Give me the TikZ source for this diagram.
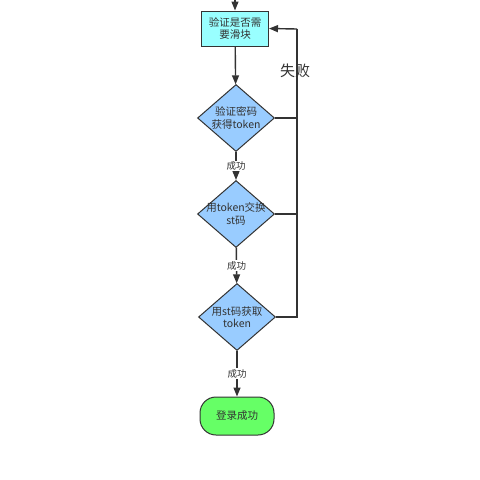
\documentclass[tikz,border=0pt]{standalone}
\usepackage{fontspec}
\setmainfont{Noto Sans CJK SC}
\usetikzlibrary{shapes.geometric}
\usetikzlibrary{arrows.meta}

\definecolor{linegray}{HTML}{333333}
\definecolor{boxcyan}{HTML}{99FFFF}
\definecolor{decblue}{HTML}{99CCFF}
\definecolor{okgreen}{HTML}{66FF66}

\begin{document}
\begin{tikzpicture}[x=1pt,y=-1pt,
  flow/.style={draw=linegray, line width=1.4pt, -{Triangle[length=9pt,width=7pt]}},
  back/.style={draw=linegray, line width=1.4pt},
  box/.style={draw=linegray, line width=1pt, fill=boxcyan, minimum width=67pt, minimum height=35pt, inner sep=0pt, align=center, text=linegray, font=\fontsize{10.5}{12.5}\selectfont},
  dec/.style={draw=linegray, line width=1pt, fill=decblue, shape=diamond, inner sep=0pt, minimum width=77pt, minimum height=67pt},
  dectext/.style={align=center, text=linegray, font=\fontsize{10.5}{12.5}\selectfont},
  term/.style={draw=linegray, line width=1pt, fill=okgreen, rounded corners=16pt, minimum width=74pt, minimum height=38pt, text=linegray, font=\fontsize{10.5}{12.5}\selectfont},
  ok/.style={fill=white, inner sep=1pt, text=linegray, font=\fontsize{9.5}{10}\selectfont}]
\useasboundingbox (0,0) rectangle (480,480);
% main column
\coordinate (start) at (235,0);
\node[box] (check) at (235,28.5) {验证是否需\\要滑块};
\node[dec, label={[dectext]center:验证密码\\获得token}] (pwd) at (236,118) {};
\node[dec, label={[dectext]center:用token交换\\st码}] (swap) at (236,214) {};
\node[dec, label={[dectext]center:用st码获取\\token}] (fetch) at (237,317) {};
\node[term] (done) at (237,416) {登录成功};
\draw[flow] (start) -- (check);
\draw[flow] (check) -- (pwd);
\draw[flow] (pwd) -- node[ok] {成功} (swap);
\draw[flow] (swap) -- node[ok] {成功} (fetch);
\draw[flow] (fetch) -- node[ok] {成功} (done);
% failure loop
\coordinate (back) at (297,29);
\draw[back] (fetch.east) -| (back);
\draw[back] (pwd.east) -- (pwd.east -| back);
\draw[back] (swap.east) -- (swap.east -| back);
\draw[flow] (back) -- (check.east);
\node[text=linegray, font=\fontsize{15}{16}\selectfont] (fail) at (295,71) {失败};
\end{tikzpicture}
\end{document}
